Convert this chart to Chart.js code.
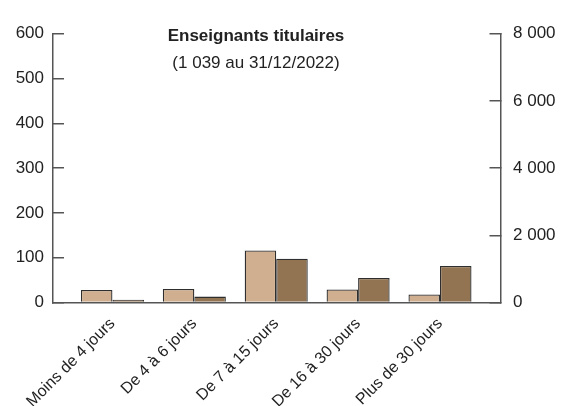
<!DOCTYPE html>
<html>
<head>
<meta charset="utf-8">
<script src="https://cdn.jsdelivr.net/npm/chart.js@4.4.1/dist/chart.umd.min.js"></script>
<style>
  html, body { margin: 0; padding: 0; background: #fff; }
  canvas { display: block; }
</style>
</head>
<body>
<canvas id="chart" width="561" height="406"></canvas>
<script>
// Données
const categories = ['Moins de 4 jours', 'De 4 à 6 jours', 'De 7 à 15 jours', 'De 16 à 30 jours', 'Plus de 30 jours'];
const lightValues = [28, 30, 116, 29, 18];          // axe de gauche
const darkValues = [85, 175, 1300, 730, 1085];      // axe de droite
const leftTicks = [0, 100, 200, 300, 400, 500, 600];
const rightTicks = [0, 2000, 4000, 6000, 8000];
const rightTickLabels = ['0', '2 000', '4 000', '6 000', '8 000'];
const titleText = 'Enseignants titulaires';
const subtitleText = '(1 039 au 31/12/2022)';

const FONT = "'Liberation Sans', Arial, sans-serif";
const TEXT = '#222222';
const AXIS = '#555555';

// titre dans la zone du graphique
const titlePlugin = {
    id: 'innerTitle',
    afterDraw(chart) {
        const ctx = chart.ctx;
        ctx.save();
        ctx.fillStyle = TEXT;
        ctx.textAlign = 'center';
        ctx.textBaseline = 'alphabetic';
        ctx.font = 'bold 17px ' + FONT;
        ctx.fillText(titleText, 256, 41);
        ctx.font = '17px ' + FONT;
        ctx.fillText(subtitleText, 256, 68);
        ctx.restore();
    }
};

new Chart(document.getElementById('chart').getContext('2d'), {
    type: 'bar',
    data: {
        datasets: [
            { data: lightValues.map((v, i) => ({ x: i, y: v })), yAxisID: 'y',
                backgroundColor: '#cfaf8f', borderColor: '#2e2e2e', borderWidth: 1.3,
                categoryPercentage: 0.77, barPercentage: 1 },
            { data: darkValues.map((v, i) => ({ x: i, y: v })), yAxisID: 'y2',
                backgroundColor: '#937452', borderColor: '#2e2e2e', borderWidth: 1.3,
                categoryPercentage: 0.77, barPercentage: 1 },
        ],
    },
    options: {
        responsive: false,
        animation: false,
        layout: { padding: { top: 24, left: 0, right: 0, bottom: 0 } },
        plugins: { legend: { display: false }, tooltip: { enabled: false } },
        scales: {
            x: {
                type: 'linear',
                offset: false,
                min: -0.726,
                max: 4.739,
                grid: { display: false, drawTicks: false },
                border: { display: true, color: AXIS, width: 1.5 },
                ticks: {
                    stepSize: 1, includeBounds: false, autoSkip: false,
                    minRotation: 45, maxRotation: 45, padding: 12,
                    color: TEXT, font: { family: FONT, size: 16 },
                    callback: v => categories[v] ?? '',
                },
                afterFit: s => { s.height = 103.5; },
            },
            y: {
                position: 'left',
                min: leftTicks[0],
                max: leftTicks[leftTicks.length - 1],
                grid: { drawOnChartArea: false, drawTicks: true, tickLength: -11, color: AXIS, lineWidth: 1.5 },
                border: { display: true, color: AXIS, width: 1.5 },
                ticks: { stepSize: 100, padding: 20, color: TEXT, font: { family: FONT, size: 17 } },
                afterBuildTicks: s => { s.ticks = leftTicks.map(v => ({ value: v })); },
                afterFit: s => { s.width = 53; },
            },
            y2: {
                position: 'right',
                min: rightTicks[0],
                max: rightTicks[rightTicks.length - 1],
                grid: { drawOnChartArea: false, drawTicks: true, tickLength: -11, color: AXIS, lineWidth: 1.5 },
                border: { display: true, color: AXIS, width: 1.5 },
                ticks: { padding: 23.5, color: TEXT, font: { family: FONT, size: 17 },
                    callback: v => rightTickLabels[rightTicks.indexOf(v)] },
                afterBuildTicks: s => { s.ticks = rightTicks.map(v => ({ value: v })); },
                afterFit: s => { s.width = 60.5; },
            },
        },
    },
    plugins: [titlePlugin],
});
</script>
</body>
</html>
